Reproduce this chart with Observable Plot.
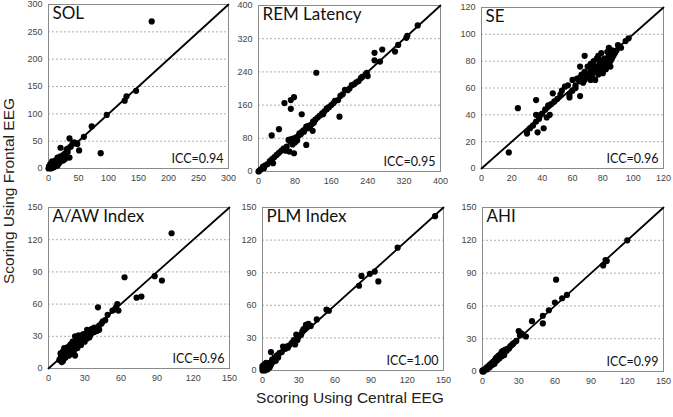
<!DOCTYPE html>
<html><head><meta charset="utf-8">
<script src="https://cdn.jsdelivr.net/npm/d3@7"></script>
<script src="https://cdn.jsdelivr.net/npm/@observablehq/plot@0.6"></script>
<style>
body{margin:0;background:#fff;}
#c{position:relative;width:673px;height:417px;overflow:hidden;background:#fff;font-family:"Liberation Sans",Arial,sans-serif;}
#c svg{position:absolute;}
.lab{position:absolute;font-size:15.5px;color:#222;white-space:nowrap;text-align:center;width:300px;line-height:18px;}
</style></head><body><div id="c"></div>
<script>
// ---- data: [central EEG, frontal EEG] pairs ----
const titles = ["SOL", "REM Latency", "SE", "A/AW Index", "PLM Index", "AHI"];
const iccLabels = ["ICC=0.94", "ICC=0.95", "ICC=0.96", "ICC=0.96", "ICC=1.00", "ICC=0.99"];
const solTicks = [0, 50, 100, 150, 200, 250, 300];
const remTicks = [0, 80, 160, 240, 320, 400];
const seTicks = [0, 20, 40, 60, 80, 100, 120];
const idxTicks = [0, 30, 60, 90, 120, 150];

const sol = [[172,269],[146,142],[130,132],[127,124],[97,98],[72,77],[59,58],[35,55],[20,38],[87,28],[51,33],[45,47],[40,45],[35,20],[30,35],[25,25],[20,22],[15,20],[12,15],[10,12],[8,8],[5,5],[3,3],[2,1],[6,2],[15,5],[18,10],[25,15],[28,18],[42,48],[48,45],[3,8],[10,3],[12,7],[1,4],[4,0],[7,11],[22,14],[32,30],[17,18],[14,14],[0,0],[2,5],[5,9],[9,6],[6,13],[1,1],[4,3],[37,40],[33,37],[27,27],[23,18],[19,14],[16,9],[13,11],[11,4],[8,2],[7,5]];
const rem = [[127,238],[255,286],[272,294],[300,289],[307,305],[327,327],[325,322],[350,352],[255,268],[267,265],[240,230],[235,233],[228,228],[215,215],[205,208],[196,196],[190,197],[175,172],[178,132],[165,165],[160,160],[150,150],[145,145],[140,140],[135,135],[57,165],[71,172],[78,179],[71,151],[95,138],[45,102],[29,87],[105,64],[78,44],[32,20],[119,98],[68,48],[60,50],[85,75],[80,70],[75,65],[72,78],[66,76],[55,55],[50,50],[45,45],[40,40],[35,35],[30,30],[25,25],[20,18],[15,15],[10,12],[5,5],[2,2],[0,0],[12,8],[90,92],[100,100],[110,110],[115,112],[120,120],[125,125],[130,130],[105,108],[95,95],[88,86],[100,96],[83,82],[118,115],[108,104],[150,152],[155,155],[168,170],[180,182],[185,186],[200,200],[210,210],[225,225],[238,238],[220,218],[62,60],[78,80],[93,90],[112,108],[122,118],[98,98],[142,138]];
const se = [[18,12],[24,45],[36,51],[37,27],[41,30],[45,40],[47,56],[30,27],[30,26],[32,30],[34,32],[36,35],[38,37],[36,40],[40,41],[42,44],[44,47],[46,48],[48,50],[50,52],[55,61],[57,62],[58,55],[58,53],[60,58],[62,60],[60,66],[65,68],[65,65],[65,54],[68,84],[65,76],[68,72],[70,70],[72,74],[73,68],[75,66],[70,76],[72,78],[74,80],[76,82],[78,78],[80,80],[82,78],[84,84],[84,90],[86,88],[85,76],[82,74],[80,71],[88,86],[90,92],[92,90],[95,95],[97,97],[78,74],[76,76],[74,72],[77,84],[79,86],[81,82],[83,80],[86,82],[87,86],[83,87],[62,62],[64,66],[66,70],[68,66],[70,68],[72,66],[75,76],[77,70],[79,75],[80,77],[82,82],[85,80],[78,81],[73,73],[76,73],[81,78],[84,78],[87,84],[89,88],[71,71],[69,69],[67,64],[63,67],[52,55],[53,58],[39,40],[43,38]];
const aaw = [[102,126],[63,85],[88,86],[94,82],[73,66],[77,67],[41,57],[57,60],[56,57],[55,55],[58,54],[53,54],[49,50],[45,44],[42,40],[40,36],[38,38],[36,37],[34,35],[32,36],[31,32],[30,30],[28,28],[26,26],[24,24],[22,22],[20,20],[18,18],[16,16],[14,14],[12,12],[10,10],[9,8],[11,6],[13,10],[15,13],[17,15],[19,17],[21,19],[23,21],[25,23],[27,25],[29,27],[31,28],[33,30],[35,32],[22,30],[25,31],[20,25],[18,22],[16,20],[14,18],[12,16],[22,12],[40,35],[42,36],[44,42],[47,45],[13,19],[15,17],[17,12],[19,23],[21,16],[23,27],[24,19],[26,29],[27,22],[29,32],[30,25],[32,28],[34,29],[36,33],[38,34],[10,14],[11,9],[12,7],[14,10],[16,14],[18,15],[20,14],[24,28],[28,31]];
const plm = [[143,142],[112,113],[96,82],[93,91],[89,89],[82,87],[80,78],[55,55],[53,56],[45,47],[38,43],[36,42],[37,40],[34,38],[32,33],[30,31],[28,33],[26,28],[24,25],[22,23],[20,22],[18,20],[16,17],[14,16],[12,14],[10,12],[8,10],[7,17],[6,7],[5,5],[4,4],[3,3],[2,2],[1,1],[0,0],[1,5],[2,6],[3,4],[0,2],[4,1],[6,3],[9,8],[11,9],[13,12],[17,22],[19,20],[21,21],[25,26],[27,24],[29,28],[33,36],[35,38],[40,41],[0,4],[2,0],[5,2],[3,7],[1,3],[7,5]];
const ahi = [[120,120],[102,102],[100,97],[103,101],[61,84],[70,70],[66,67],[60,63],[55,56],[50,51],[50,44],[41,46],[36,32],[32,35],[30,37],[31,33],[25,25],[23,23],[21,21],[19,20],[17,19],[16,18],[15,16],[14,15],[13,14],[12,13],[11,12],[10,10],[9,9],[8,8],[7,7],[6,6],[5,5],[4,4],[3,3],[2,2],[1,1],[0,0],[18,17],[20,19],[22,21],[24,24],[26,26],[28,28],[33,34],[4,2],[6,4],[8,6],[10,7],[12,10],[14,12],[16,14],[18,15],[1,0],[0,1]];

const datasets = [sol, rem, se, aaw, plm, ahi];
const tickSets = [solTicks, remTicks, seTicks, idxTicks, idxTicks, idxTicks];
// frame boxes [left, right, top, bottom] in page pixels
const boxes = [[48,228,4,168],[258,440,5,171],[481,663,7,168],[48,229,207,368],[262,443,207,370],[482,663,207,371]];

const c = document.getElementById("c");
const mL = 40, mR = 14, mT = 6, mB = 22;
datasets.forEach((data, i) => {
  const ticks = tickSets[i];
  const max = ticks[ticks.length - 1];
  const [L, R, T, B] = boxes[i];
  const w = R - L, h = B - T;
  const svg = Plot.plot({
    width: mL + w + mR, height: mT + h + mB,
    marginLeft: mL, marginRight: mR, marginTop: mT, marginBottom: mB,
    style: {fontFamily: "Liberation Sans, Arial, sans-serif", fontSize: "9px", color: "#444", background: "transparent", overflow: "visible"},
    x: {domain: [0, max]},
    y: {domain: [0, max]},
    marks: [
      Plot.ruleY(ticks.slice(1, -1), {stroke: "#999", strokeDasharray: "2,2", strokeWidth: 0.8}),
      Plot.frame({stroke: "#8a8a8a", strokeWidth: 1}),
      Plot.line([0, max].map(v => [v, v]), {stroke: "#000", strokeWidth: 1.8}),
      Plot.dot(data, {x: d => d[0], y: d => d[1], r: 3.1, fill: "#000", stroke: "none"}),
      Plot.text([titles[i]], {frameAnchor: "top-left", dx: 4, dy: 2, fontSize: 17, fontFamily: "Lato, 'Open Sans', sans-serif", fill: "#111"}),
      Plot.text([iccLabels[i]], {frameAnchor: "bottom-right", dx: -5, dy: -6, fontSize: 12.5, fontFamily: "Lato, 'Open Sans', sans-serif", fill: "#111"}),
      Plot.axisX({ticks, tickSize: 0, tickPadding: 6, label: null, fill: "#444"}),
      Plot.axisY({ticks, tickSize: 0, tickPadding: 6, label: null, fill: "#444"})
    ]
  });
  svg.style.left = (L - mL) + "px";
  svg.style.top = (T - mT) + "px";
  c.appendChild(svg);
});

const xl = document.createElement("div");
xl.className = "lab";
xl.textContent = "Scoring Using Central EEG";
xl.style.left = (350 - 150) + "px";
xl.style.top = "389px";
c.appendChild(xl);

const yl = document.createElement("div");
yl.className = "lab";
yl.textContent = "Scoring Using Frontal EEG";
yl.style.left = (9 - 150) + "px";
yl.style.top = (191 - 9) + "px";
yl.style.transform = "rotate(-90deg)";
c.appendChild(yl);
</script>
</body></html>
